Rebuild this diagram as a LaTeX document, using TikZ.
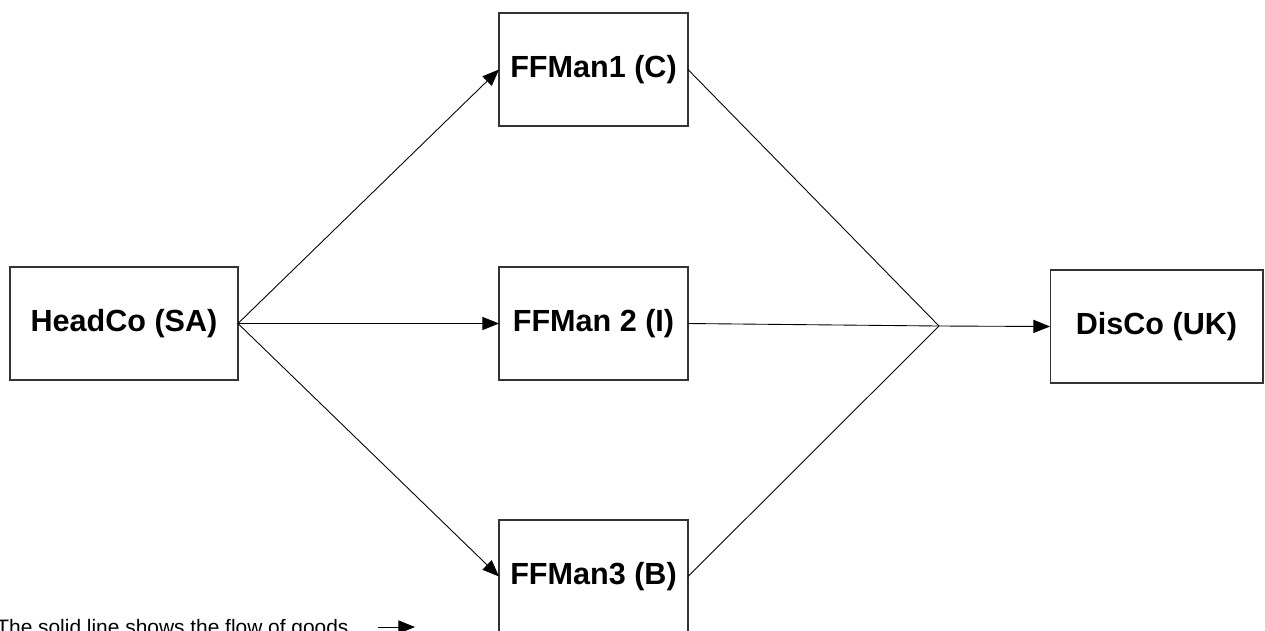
\documentclass[tikz,border=0pt]{standalone}
\usepackage{fontspec}
\setmainfont{Liberation Sans}
\usetikzlibrary{arrows.meta}

\begin{document}
\begin{tikzpicture}[x=0.02cm, y=-0.02cm,
    company/.style={draw=black!80, line width=0.6pt, inner sep=0pt, outer sep=0pt,
        minimum height=2.26cm, font=\fontsize{17.4}{20}\selectfont\bfseries},
    goods/.style={line width=0.5pt, -{Triangle[length=9.5pt,width=7.5pt]}},
    leg/.style={line width=0.5pt}]
    \path[use as bounding box, clip] (0,0) rectangle (1265,630);

    \node[company, minimum width=4.56cm] (headco) at (124,323.5) {HeadCo (SA)};
    \node[company, minimum width=3.78cm] (ffman1) at (593.5,69.5) {FFMan1 (C)};
    \node[company, minimum width=3.78cm] (ffman2) at (593.5,323.5) {FFMan 2 (I)};
    \node[company, minimum width=3.78cm] (ffman3) at (593.5,576.5) {FFMan3 (B)};
    \node[company, minimum width=4.26cm] (disco) at (1156.5,326.5) {DisCo (UK)};
    \coordinate (join) at (939,326);

    \draw[goods] (headco.east) -- (ffman1.west);
    \draw[goods] (headco.east) -- (ffman2.west);
    \draw[goods] (headco.east) -- (ffman3.west);
    \draw[leg] (ffman1.east) -- (join);
    \draw[leg] (ffman2.east) -- (join);
    \draw[leg] (ffman3.east) -- (join);
    \draw[goods] (join) -- (disco.west);

    % key
    \node[anchor=base west, inner sep=0pt, font=\fontsize{11.9}{14}\selectfont]
        (key) at (-4,634) {The solid line shows the flow of goods};
    \coordinate (keyfrom) at (378,627);
    \coordinate (keyto) at (415,627);
    \draw[goods] (keyfrom) -- (keyto);
\end{tikzpicture}
\end{document}
